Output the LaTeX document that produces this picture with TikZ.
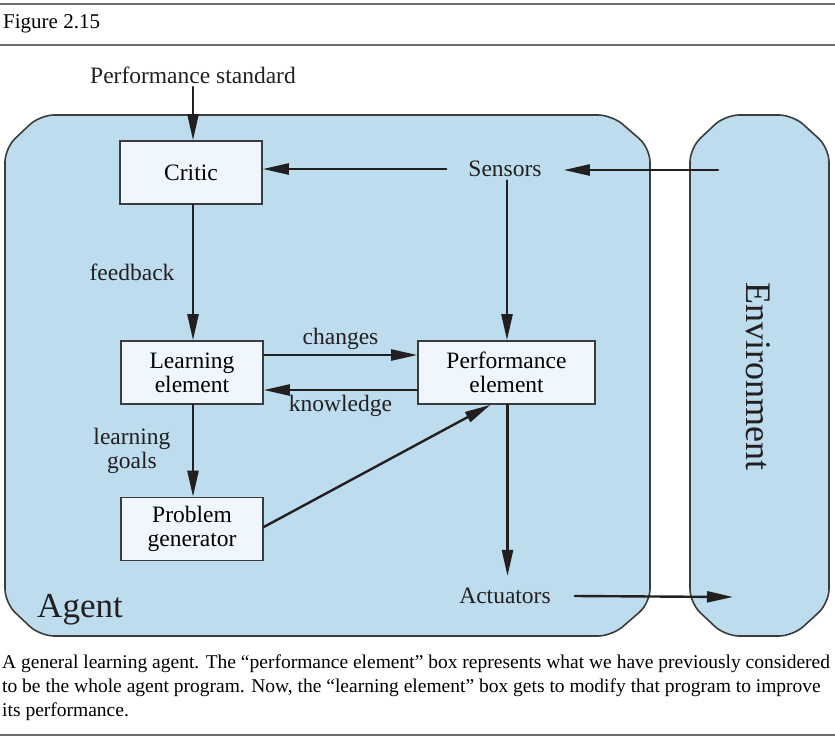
\documentclass[tikz,border=0pt]{standalone}
\usepackage{fontspec}
\setmainfont{Liberation Serif}
\usetikzlibrary{arrows.meta}

\definecolor{agentblue}{RGB}{189,221,238}
\definecolor{boxwhite}{RGB}{239,247,253}
\definecolor{edgegray}{RGB}{60,60,60}
\definecolor{inkblack}{RGB}{35,31,32}
\definecolor{rulegray}{RGB}{110,110,110}

\begin{document}
\begin{tikzpicture}[%
        x = 1pt,
        y = -1pt,
        line cap = round,
        > = {Triangle[length = 26pt, width = 11pt]},
        blob/.style = {
            draw = edgegray,
            line width = 1.6pt,
            fill = agentblue,
            rounded corners = 14pt
        },
        elembox/.style = {
            draw = edgegray,
            line width = 1.6pt,
            fill = boxwhite,
            minimum width = 142pt,
            minimum height = 63pt,
            align = center,
            inner sep = 0pt,
            font = \fontsize{23.5}{24}\selectfont
        },
        tag/.style = {
            font = \fontsize{23.5}{24}\selectfont,
            align = center,
            text = inkblack
        },
        flow/.style = {
            draw = inkblack,
            line width = 2.4pt,
            ->
        },
        hrule/.style = {
            draw = rulegray,
            line width = 2.4pt
        }
    ]

        \useasboundingbox (0, 0) rectangle (835, 739);

        % Rules and figure heading.
        \draw[hrule] (0, 4) -- (835, 4);
        \draw[hrule] (0, 45) -- (835, 45);
        \draw[hrule] (0, 735) -- (835, 735);
        \node[anchor = base west, inner sep = 0pt,
              font = \fontsize{21}{24}\selectfont] (fig) at (3, 28) {Figure 2.15};

        % Agent and environment blobs.
        \draw[blob] (40, 115) -- (612, 115) -- (650, 148) -- (650, 603)
                    -- (612, 636) -- (40, 636) -- (5, 603) -- (5, 148) -- cycle;
        \draw[blob] (725, 115) -- (793, 115) -- (829, 148) -- (829, 603)
                    -- (793, 636) -- (725, 636) -- (690, 603) -- (690, 148) -- cycle;

        \node[tag, font = \fontsize{35}{38}\selectfont, anchor = base] (agent) at (80, 617) {Agent};
        \node[tag, font = \fontsize{36}{38}\selectfont, rotate = -90] (env) at (758, 376) {Environment};

        % Element boxes.
        \node[elembox] (critic) at (191, 172.5) {Critic};
        \node[elembox] (learn) at (192, 372.5) {Learning\\element};
        \node[elembox] (prob) at (192, 529) {Problem\\generator};
        \node[elembox, minimum width = 177pt] (perf) at (506.5, 372.5) {Performance\\element};

        % Free labels.
        \node[tag] (std) at (193, 75) {Performance standard};
        \node[tag, inner xsep = 22pt] (sensors) at (505, 169) {Sensors};
        \node[tag, inner xsep = 24pt, inner ysep = 12pt] (act) at (505, 596) {Actuators};
        \coordinate (envin) at (718, 170);
        \coordinate (envout) at (733, 597);

        % Connectors.
        \draw[flow] (std.south -| critic.north) ++(2, 0) coordinate (stdfoot)
              -- (stdfoot |- critic.north);
        \draw[flow] (envin) -- (envin -| sensors.east);
        \draw[flow] (sensors.west) -- (sensors.west -| critic.east);
        \draw[flow] (sensors.south) ++(2, 0) coordinate (sensfoot)
              -- (sensfoot |- perf.north);
        \draw[flow] ([xshift = 2pt]critic.south)
              -- node[tag, left = 14pt] (fb) {feedback} ([xshift = 1pt]learn.north);
        \draw[flow] ([yshift = 17.5pt]learn.east)
              -- node[tag, above = 1pt] (chg) {changes} ([yshift = 17.5pt]perf.west);
        \draw[flow] ([yshift = -17.5pt]perf.west)
              -- node[tag, below = 1pt] (kn) {knowledge} ([yshift = -17.5pt]learn.east);
        \draw[flow] ([xshift = 1pt]learn.south)
              -- node[tag, left = 18pt] (goals) {learning\\goals} ([xshift = 1pt]prob.north);
        \draw[flow] ([yshift = 2pt]prob.east) -- ([xshift = -16pt]perf.south);
        \draw[flow] ([xshift = 1pt]perf.south) -- ([xshift = 1pt]perf.south |- act.north);
        \draw[flow] (act.east) -- (envout);

        % Caption.
        \node[anchor = base west, inner sep = 0pt, align = left,
              font = \fontsize{19.5}{24}\selectfont] (caption) at (2, 716)
              {A general learning agent. The “performance element” box represents what we have previously considered\\
               to be the whole agent program. Now, the “learning element” box gets to modify that program to improve\\
               its performance.};
    \end{tikzpicture}
\end{document}
